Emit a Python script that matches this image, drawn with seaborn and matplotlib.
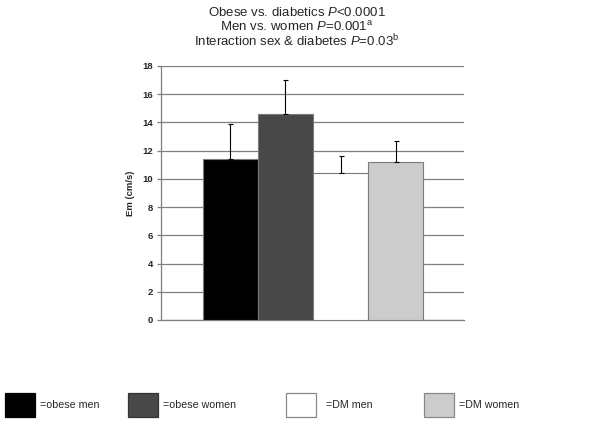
import matplotlib
matplotlib.use("Agg")
import matplotlib.pyplot as plt
import seaborn as sns
import pandas as pd

# Data
groups = ["obese men", "obese women", "DM men", "DM women"]
em_mean = [11.4, 14.6, 10.4, 11.2]
em_sd = [2.5, 2.4, 1.2, 1.5]
bar_colors = ["#000000", "#484848", "#ffffff", "#cccccc"]
y_ticks = [0, 2, 4, 6, 8, 10, 12, 14, 16, 18]
title_lines = [
    r"Obese vs. diabetics $\mathit{P}$<0.0001",
    r"Men vs. women $\mathit{P}$=0.001$^{\mathrm{a}}$",
    r"Interaction sex & diabetes $\mathit{P}$=0.03$^{\mathrm{b}}$",
]

sns.set_theme(style="white")
plt.rcParams['font.family'] = ['Liberation Sans', 'DejaVu Sans']
plt.rcParams['mathtext.fontset'] = 'custom'
plt.rcParams['mathtext.rm'] = 'Liberation Sans'
plt.rcParams['mathtext.it'] = 'Liberation Sans:italic'

df = pd.DataFrame({'group': groups, 'em': em_mean, 'sd': em_sd})

fig = plt.figure(figsize=(6.02, 4.32), dpi=100)
ax = fig.add_axes([0.2674, 0.2593, 0.5033, 0.5880])

sns.barplot(data=df, x='group', y='em', hue='group', palette=bar_colors,
            width=1.0, errorbar=None, legend=False, ax=ax,
            edgecolor='#7a7a7a', linewidth=0.8, zorder=3)

# upper-only error bars
ax.errorbar(range(len(groups)), df['em'], yerr=[[0] * len(groups), df['sd']],
            fmt='none', ecolor='black', elinewidth=0.8, capsize=1.8,
            capthick=0.8, zorder=4)

ax.set_ylim(0, 18)
ax.set_xlim(-1.26, 4.24)
ax.set_yticks(y_ticks)
ax.set_yticklabels([str(t) for t in y_ticks], fontsize=6.8, fontweight='bold')
ax.set_xticks([])
ax.set_xlabel('')
ax.set_ylabel('Em (cm/s)', fontsize=6.8, fontweight='bold', labelpad=5)

ax.yaxis.grid(True, color='#7f7f7f', linewidth=0.9, zorder=0)
ax.set_axisbelow(True)
for side in ['top', 'right']:
    ax.spines[side].set_visible(False)
for side in ['left', 'bottom']:
    ax.spines[side].set_color('#7f7f7f')
    ax.spines[side].set_linewidth(0.9)
ax.tick_params(axis='y', which='both', left=True, length=3, width=0.9,
               color='#7f7f7f', pad=3)

# title block
for i, line in enumerate(title_lines):
    fig.text(0.493, 0.972 - i * 0.0335, line, ha='center', va='center',
             fontsize=9.5)

# legend: one entry per group, spread along the bottom
edge_cols = ['#000000', '#333333', '#888888', '#888888']
anchors = [0.008, 0.213, 0.475, 0.704]
text_gap = [0.45, 0.45, 0.95, 0.5]
for g, c, ec, a, tg in zip(groups, bar_colors, edge_cols, anchors, text_gap):
    h = plt.Rectangle((0, 0), 1, 1, facecolor=c, edgecolor=ec, linewidth=0.9)
    fig.legend([h], ['=' + g], loc='center left', bbox_to_anchor=(a, 0.0625),
               frameon=False, fontsize=7.7, handlelength=2.8, handleheight=3.2,
               handletextpad=tg, borderpad=0, borderaxespad=0)

fig.savefig('out.png', dpi=100)
